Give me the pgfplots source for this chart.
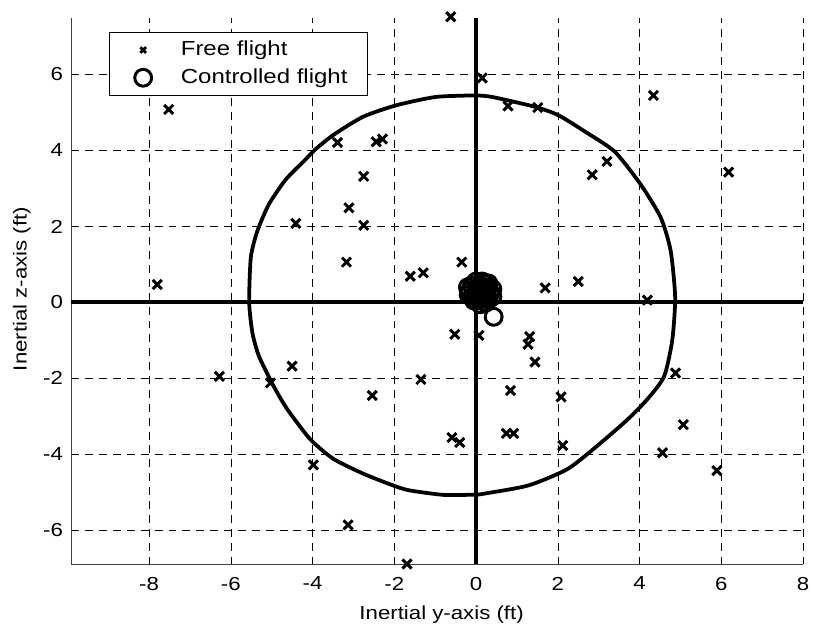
\documentclass[border=0pt]{standalone}
\usepackage{fontspec}
\setmainfont{Liberation Sans}[FakeStretch=1.18]
\usepackage{pgfplots}
\pgfplotsset{compat=1.18}
\pgfplotsset{
  ffimg/.style={legend image code/.code={\path[draw=none,fill=none] (0pt,-9pt) rectangle (28pt,9pt);
    \draw[##1, mark size=4pt, line width=2.8pt] plot coordinates {(14pt,0pt)};}},
  cfimg/.style={legend image code/.code={\path[draw=none,fill=none] (0pt,-9pt) rectangle (28pt,9pt);
    \draw[##1] plot coordinates {(14pt,0pt)};}},
}
\begin{document}
\fontsize{19}{22}\selectfont
\begin{tikzpicture}
\begin{axis}[
  scale only axis, width=738pt, height=551.6pt,
  xmin=-9.9, xmax=8, ymin=-6.9, ymax=7.5,
  axis x line*=bottom, axis y line*=left,
  axis line style={line width=0.8pt, black!75},
  xtick={-8,-6,...,8}, ytick={-6,-4,...,6},
  grid=major,
  grid style={black, line width=0.6pt, dash pattern=on 8pt off 6pt},
  tick style={black, line width=0.6pt}, tick align=inside, major tick length=5pt,
  /pgf/number format/assume math mode=true,
  tick label style={font=\fontsize{19}{22}\selectfont},
  xticklabel style={yshift=-6pt},
  yticklabel style={xshift=-2pt},
  label style={font=\fontsize{19}{22}\selectfont},
  xlabel={Inertial y-axis (ft)}, ylabel={Inertial z-axis (ft)},
  xlabel style={at={(axis description cs:0.506,-0.101)}, anchor=base},
  ylabel style={at={(axis description cs:-0.061,0.5036)}, anchor=base},
  legend style={at={(axis description cs:0.0515,0.974)}, anchor=north west,
    draw=black, line width=0.8pt,
    font=\fontsize{20.5}{24}\selectfont,
    inner xsep=20pt, inner ysep=9pt, row sep=10pt, column sep=24pt,
    nodes={inner sep=0pt}},
  legend cell align=left,
  clip=false,
]
% axes lines
\addplot[forget plot, black, line width=4pt] coordinates {(-9.9,0) (8,0)};
\addplot[forget plot, black, line width=4pt] coordinates {(0,-6.9) (0,7.5)};
% boundary curve
\addplot[forget plot, black, line width=3.8pt, smooth, tension=0.4] coordinates {
(0,5.45) (0.39,5.41) (1.44,5.15) (2.01,4.93) (2.66,4.50) (3.39,3.97) (4.03,3.10)
(4.52,2.23) (4.76,1.36) (4.87,0.14) (4.80,-0.99) (4.60,-1.95) (4.19,-2.55)
(3.71,-3.08) (3.06,-3.69) (2.25,-4.38) (1.28,-4.82) (0.23,-5.03) (0,-5.06)
(-0.78,-5.07) (-1.63,-4.95) (-2.03,-4.82) (-2.76,-4.51) (-3.49,-4.12) (-4.06,-3.60)
(-4.62,-2.81) (-4.95,-2.21) (-5.31,-1.42) (-5.47,-0.81) (-5.55,0.0) (-5.51,1.19)
(-5.35,1.88) (-5.07,2.58) (-4.66,3.23) (-4.22,3.71) (-3.94,4.02) (-3.49,4.41)
(-2.76,4.89) (-1.95,5.19) (-0.98,5.41) (0,5.45)};
% free flight
\addplot[only marks, mark=x, mark size=6.5pt, line width=3pt, black, ffimg]
coordinates {
(-0.62,7.52) (-7.52,5.08) (-7.80,0.47) (-3.39,4.21) (-2.44,4.23) (-2.29,4.30)
(-2.75,3.32) (-3.11,2.49) (-2.75,2.03) (-4.41,2.08) (-3.17,1.06) (-1.61,0.69)
(-1.29,0.78) (-0.35,1.06) (0.15,5.91) (0.78,5.17) (1.51,5.13) (4.34,5.45)
(3.20,3.71) (2.84,3.36) (6.18,3.43) (1.69,0.38) (2.50,0.55) (4.19,0.06)
(-0.52,-0.84) (0.07,-0.87) (1.31,-0.90) (1.27,-1.10) (1.44,-1.57) (0.84,-2.32)
(2.08,-2.49) (4.88,-1.86) (5.07,-3.22) (-0.59,-3.56) (-0.40,-3.69) (0.74,-3.45)
(0.92,-3.45) (2.12,-3.77) (4.56,-3.96) (5.89,-4.43) (-4.50,-1.68) (-6.28,-1.95)
(-5.03,-2.12) (-1.35,-2.03) (-2.54,-2.45) (-3.98,-4.28) (-3.13,-5.86) (-1.69,-6.89)};
\addlegendentry{Free flight}
% controlled flight
\addplot[only marks, mark=o, mark size=8.5pt, line width=3pt, black, cfimg]
coordinates {
(0.05,0.35) (0.10,0.45) (0.20,0.50) (0.30,0.40) (0.35,0.25) (0.30,0.10) (0.20,0.02)
(0.05,0.05) (-0.10,0.15) (-0.15,0.30) (-0.10,0.45) (0.00,0.55) (0.15,0.55) (0.30,0.50)
(0.40,0.35) (0.40,0.15) (0.25,0.00) (0.10,-0.05) (-0.05,0.05) (-0.18,0.20) (-0.20,0.40)
(0.00,0.20) (0.15,0.25) (0.10,0.15) (0.20,0.35) (0.10,0.30) (0.20,0.20) (0.05,0.25)
(0.12,0.38) (0.25,0.28) (0.43,-0.38)};
\addlegendentry{Controlled flight}
\end{axis}
\path (current axis.south west) ++(-72pt,-60.7pt) coordinate (bbA);
\path (current axis.north east) ++(10pt,17.7pt) coordinate (bbB);
\pgfresetboundingbox
\path[use as bounding box] (bbA) rectangle (bbB);
\end{tikzpicture}
\end{document}
